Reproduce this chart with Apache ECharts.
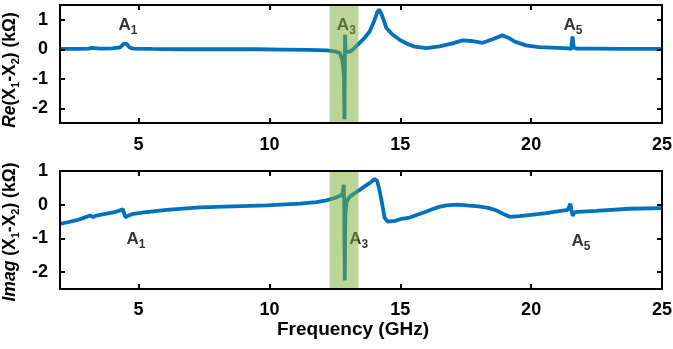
<!DOCTYPE html>
<html>
<head>
<meta charset="utf-8">
<script src="https://cdn.jsdelivr.net/npm/echarts@6/dist/echarts.min.js"></script>
<style>
  html, body { margin: 0; padding: 0; background: #fff; }
  #chart { width: 673px; height: 349px; }
</style>
</head>
<body>
<div id="chart"></div>
<script>
// frequency (GHz), Re(X1-X2) (kOhm)
var reData = [
  [2.0,0.01],[2.6,0.01],[3.1,0.02],[3.2,0.05],[3.27,0.1],[3.34,0.04],[3.5,0.02],
  [4.0,0.03],[4.3,0.06],[4.42,0.18],[4.48,0.24],[4.55,0.18],[4.65,0.06],[4.8,0.02],
  [5.5,0.01],[6.5,0.0],[8,0.0],[9.5,0.0],[10.5,-0.01],[11.5,-0.02],[12.2,-0.04],
  [12.5,-0.07],[12.69,-0.13],[12.79,-0.37],[12.85,-0.9],[12.87,-2.37],[12.89,0.49],
  [12.91,-0.1],[13.07,-0.08],[13.2,0.0],[13.37,0.15],[13.6,0.35],[13.83,0.6],
  [14.0,0.95],[14.12,1.25],[14.19,1.35],[14.28,1.2],[14.38,0.95],[14.47,0.72],
  [14.7,0.5],[14.98,0.32],[15.3,0.17],[15.55,0.09],[16.0,0.04],[16.5,0.1],[17.0,0.2],
  [17.38,0.3],[17.7,0.28],[18.15,0.22],[18.5,0.33],[18.9,0.47],[19.1,0.4],[19.4,0.25],
  [19.8,0.13],[20.3,0.07],[21.0,0.05],[21.45,0.03],[21.53,0.0],[21.58,0.43],
  [21.63,0.05],[21.75,0.02],[22.5,0.02],[23.5,0.01],[25,0.01]
];
// frequency (GHz), Imag(X1-X2) (kOhm)
var imData = [
  [2.0,-0.57],[2.3,-0.52],[2.64,-0.46],[2.9,-0.39],[3.15,-0.32],[3.22,-0.31],[3.27,-0.37],
  [3.35,-0.33],[3.53,-0.3],[4.03,-0.23],[4.3,-0.17],[4.4,-0.13],[4.45,-0.25],[4.5,-0.37],
  [4.6,-0.33],[4.8,-0.27],[5.3,-0.22],[6.07,-0.15],[7.34,-0.08],[8.61,-0.05],[9.89,-0.02],
  [11.16,0.03],[11.8,0.08],[12.18,0.13],[12.5,0.2],[12.69,0.26],[12.8,0.32],[12.84,0.59],
  [12.86,0.0],[12.88,-2.25],[12.9,-0.3],[12.95,0.1],[13.07,0.24],[13.41,0.42],[13.6,0.52],
  [13.83,0.64],[14.02,0.76],[14.12,0.7],[14.2,0.45],[14.3,0.06],[14.4,-0.38],[14.52,-0.5],
  [14.8,-0.48],[15.0,-0.43],[15.36,-0.38],[16.0,-0.2],[16.4,-0.08],[16.76,-0.02],[17.2,0.0],
  [17.65,-0.03],[18.0,-0.05],[18.4,-0.1],[18.7,-0.18],[18.92,-0.27],[19.18,-0.36],
  [19.56,-0.34],[20.0,-0.3],[20.58,-0.25],[21.0,-0.2],[21.4,-0.15],[21.47,-0.1],[21.5,0.03],
  [21.55,-0.2],[21.59,-0.33],[21.65,-0.23],[21.78,-0.21],[22.48,-0.18],[23.76,-0.12],[25,-0.1]
];
var bandRange = [12.3, 13.4];
var xTicks = [5, 10, 15, 20, 25];
var yTicks = [-2, -1, 0, 1];
// annotation: x, y, subscript
var reLabels = [[4.6, 0.75, '1'], [12.94, 0.75, '3'], [21.6, 0.77, '5']];
var imLabels = [[4.9, -1.08, '1'], [13.41, -1.06, '3'], [21.9, -1.13, '5']];

var font = 'Liberation Sans, Arial, sans-serif';
var lineColor = '#0072BD';

function xAx(grid, pos, showLabel, extra) {
  var a = {
    type: 'value', gridIndex: grid, position: pos, min: 2, max: 25, z: 20,
    axisLine: { onZero: false, lineStyle: { color: '#000', width: 2 } },
    axisTick: { inside: true, length: 5, customValues: xTicks, lineStyle: { color: '#000', width: 2 } },
    axisLabel: { show: showLabel, customValues: xTicks, margin: 12,
      fontFamily: font, fontSize: 18, fontWeight: 'bold', color: '#000' },
    splitLine: { show: false }
  };
  return Object.assign(a, extra || {});
}
function yAx(grid, pos, max, showLabel, extra) {
  var a = {
    type: 'value', gridIndex: grid, position: pos, min: -2.5, max: max, z: 20,
    axisLine: { onZero: false, lineStyle: { color: '#000', width: 2 } },
    axisTick: { inside: true, length: 5, customValues: yTicks, lineStyle: { color: '#000', width: 2 } },
    axisLabel: { show: showLabel, customValues: yTicks, margin: 12,
      fontFamily: font, fontSize: 18, fontWeight: 'bold', color: '#000' },
    splitLine: { show: false }
  };
  return Object.assign(a, extra || {});
}
var nameRich = {
  i: { fontFamily: font, fontSize: 17.5, fontStyle: 'italic', fontWeight: 'bold', color: '#000', verticalAlign: 'top' },
  n: { fontFamily: font, fontSize: 17.5, fontWeight: 'bold', color: '#000', verticalAlign: 'top' },
  s: { fontFamily: font, fontSize: 11, fontWeight: 'bold', color: '#000', verticalAlign: 'top', padding: [9, 0, 0, 0] }
};
var labRich = {
  a: { fontFamily: font, fontSize: 17, fontWeight: 'bold', color: '#000', verticalAlign: 'top' },
  b: { fontFamily: font, fontSize: 12, fontWeight: 'bold', color: '#000', verticalAlign: 'top', padding: [8, 0, 0, 0] }
};

function bandSeries(xi, yi) {
  return {
    type: 'custom', xAxisIndex: xi, yAxisIndex: yi, z: 10, silent: true,
    data: [bandRange],
    renderItem: function (params, api) {
      var cs = params.coordSys;
      var p0 = api.coord([api.value(0), 0]);
      var p1 = api.coord([api.value(1), 0]);
      return { type: 'rect', shape: { x: p0[0], y: cs.y + 1, width: p1[0] - p0[0], height: cs.height - 2 },
        style: { fill: 'rgba(119,172,48,0.5)' } };
    }
  };
}
function labelSeries(xi, yi, labs) {
  return {
    type: 'scatter', xAxisIndex: xi, yAxisIndex: yi, z: 4, silent: true,
    symbolSize: 1, itemStyle: { color: 'transparent' },
    data: labs,
    label: { show: true, position: 'inside',
      formatter: function (p) { return '{a|A}{b|' + p.data[2] + '}'; }, rich: labRich }
  };
}

var myChart = echarts.init(document.getElementById('chart'));
var option = {
  animation: false,
  grid: [
    { left: 60, right: 11, top: 5, height: 118, outerBoundsMode: 'none', containLabel: false },
    { left: 60, right: 11, top: 171, height: 118, outerBoundsMode: 'none', containLabel: false }
  ],
  xAxis: [
    xAx(0, 'bottom', true, { axisLabel: { customValues: xTicks, margin: 13,
      fontFamily: font, fontSize: 18, fontWeight: 'bold', color: '#000' } }),
    xAx(0, 'top', false),
    xAx(1, 'bottom', true, {
      name: 'Frequency (GHz)', nameLocation: 'middle', nameGap: 31,
      nameTextStyle: { fontFamily: font, fontSize: 19, fontWeight: 'bold', color: '#000', padding: [0, 16, 0, 0] }
    }),
    xAx(1, 'top', false)
  ],
  yAxis: [
    yAx(0, 'left', 1.5, true, {
      name: '{i|Re}{n|(X}{s|1}{n|-X}{s|2}{n|) (kΩ)}', nameLocation: 'middle', nameGap: 36, nameRotate: 90,
      nameTextStyle: { rich: nameRich, padding: [0, 12, 0, 0] }
    }),
    yAx(0, 'right', 1.5, false),
    yAx(1, 'left', 1, true, {
      name: '{i|Imag}{n| (X}{s|1}{n|-X}{s|2}{n|) (kΩ)}', nameLocation: 'middle', nameGap: 36, nameRotate: 90,
      nameTextStyle: { rich: nameRich, padding: [0, 4, 0, 0] }
    }),
    yAx(1, 'right', 1, false)
  ],
  series: [
    { type: 'line', xAxisIndex: 0, yAxisIndex: 0, z: 3, data: reData, showSymbol: false,
      lineStyle: { color: lineColor, width: 3.8 }, itemStyle: { color: lineColor } },
    { type: 'line', xAxisIndex: 2, yAxisIndex: 2, z: 3, data: imData, showSymbol: false,
      lineStyle: { color: lineColor, width: 3.8 }, itemStyle: { color: lineColor } },
    labelSeries(0, 0, reLabels),
    labelSeries(2, 2, imLabels),
    bandSeries(0, 0),
    bandSeries(2, 2)
  ]
};
myChart.setOption(option);
</script>
</body>
</html>
